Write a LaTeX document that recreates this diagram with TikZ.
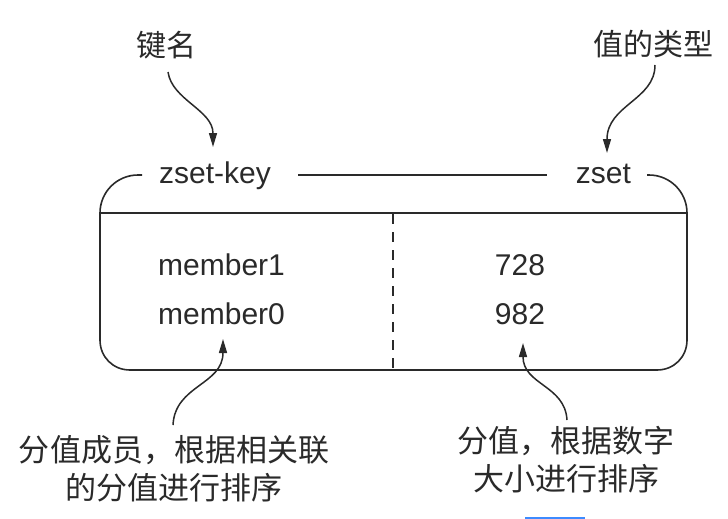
\documentclass[tikz,border=0pt]{standalone}
\usepackage{fontspec}
\setmainfont{Liberation Sans}
\newfontfamily\cjk{Noto Sans CJK SC}
\usetikzlibrary{arrows.meta}
\definecolor{ink}{HTML}{2A2A2A}
\definecolor{selblue}{HTML}{3D8BFF}
\begin{document}
\begin{tikzpicture}[x=1pt,y=-1pt,
  lbl/.style={inner sep=0pt,text=ink,font=\fontsize{30}{36}\selectfont},
  cjklbl/.style={inner sep=0pt,text=ink,font=\cjk\fontsize{30}{36}\selectfont},
  note/.style={inner sep=0pt,text=ink,align=center,font=\cjk\fontsize{31}{38.5}\selectfont},
  frame/.style={draw=ink,line width=1.6pt},
  callout/.style={draw=ink,line width=1.5pt,-{Triangle[length=14pt,width=8pt]}}]
\useasboundingbox (0,0) rectangle (728,519);
\fill[white] (0,0) rectangle (728,519);
% labels
\node[cjklbl] (keyname) at (166,45) {键名};
\node[cjklbl] (valtype) at (653,44) {值的类型};
\node[lbl,anchor=base] (zsetkey) at (215,183) {zset-key};
\node[lbl,anchor=base] (zset) at (603.5,183) {zset};
\node[lbl,anchor=base west] (m1) at (158,275) {member1};
\node[lbl,anchor=base west] (m0) at (158,324) {member0};
\node[lbl,anchor=base] (s1) at (520,275) {728};
\node[lbl,anchor=base] (s0) at (520,324) {982};
\node[note] (memnote) at (174,469) {分值成员，根据相关联\\的分值进行排序};
\node[note] (scorenote) at (566,459.5) {分值，根据数字\\大小进行排序};
% frame
\draw[frame] (142,175) -- (138,175) .. controls (117,175) and (100,192) .. (100,213)
  -- (100,340) .. controls (100,357) and (113,370) .. (130,370)
  -- (657,370) .. controls (674,370) and (687,357) .. (687,340)
  -- (687,213) .. controls (687,192) and (670,175) .. (649,175) -- (647,175);
\draw[frame] (298,175) -- (547,175);
\draw[frame] (100,213) -- (687,213);
\draw[draw=ink,line width=1.5pt,dash pattern=on 10pt off 8pt] (393,214) -- (393,370);
% callout end points
\coordinate (k0) at (168,72);
\coordinate (k1) at (213,147);
\coordinate (v0) at (655,65);
\coordinate (v1) at (607,153);
\coordinate (n0) at (173,425);
\coordinate (n1) at (223,339);
\coordinate (c0) at (567,420);
\coordinate (c1) at (523,343);
\draw[callout] (k0) .. controls (172,100) and (213,110) .. (k1);
\draw[callout] (v0) .. controls (655,100) and (607,105) .. (v1);
\draw[callout] (n0) .. controls (175,385) and (223,385) .. (n1);
\draw[callout] (c0) .. controls (565,385) and (523,385) .. (c1);
% selection mark at bottom
\fill[selblue] (525,516.5) rectangle (585,519);
\end{tikzpicture}
\end{document}
